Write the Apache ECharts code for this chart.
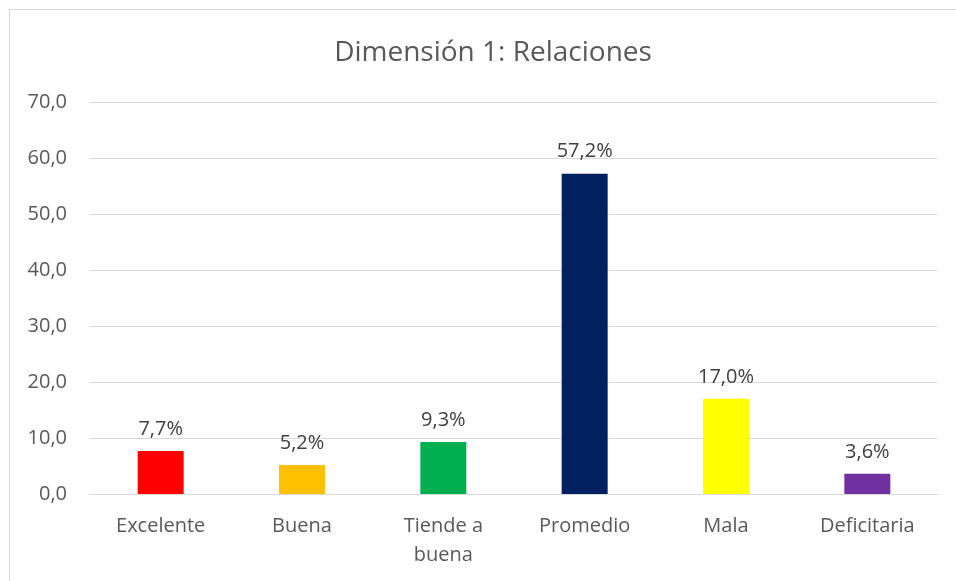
<!DOCTYPE html>
<html>
<head>
<meta charset="utf-8">
<script src="https://cdn.jsdelivr.net/npm/echarts@6/dist/echarts.min.js"></script>
<style>
  html, body { margin: 0; padding: 0; background: #fff; }
  #frame { position: absolute; left: 9px; top: 9px; width: 960px; height: 590px; border: 1px solid #d9d9d9; box-sizing: border-box; }
  #chart { position: absolute; left: 0; top: 0; width: 956px; height: 581px; }
</style>
</head>
<body>
<div id="frame"></div>
<div id="chart"></div>
<script>
// categorías y valores (%)
const categories = ['Excelente', 'Buena', 'Tiende a buena', 'Promedio', 'Mala', 'Deficitaria']
const values = [7.7, 5.2, 9.3, 57.2, 17.0, 3.6]
const barColors = ['#FF0000', '#FFC000', '#00B050', '#002060', '#FFFF00', '#7030A0']

const fontFamily = '"Open Sans", "Noto Sans", sans-serif'
const chart = echarts.init(document.getElementById('chart'))

chart.setOption({
  animation: false,
  title: {
    text: 'Dimensión 1: Relaciones',
    left: 488,
    textAlign: 'center',
    top: 34,
    textStyle: { fontFamily, fontSize: 28, fontWeight: 'normal', color: '#595959' }
  },
  grid: { left: 90, right: 18, top: 102, bottom: 87 },
  xAxis: {
    type: 'category',
    data: categories,
    axisLine: { lineStyle: { color: '#d9d9d9', width: 1 } },
    axisTick: { show: false },
    axisLabel: {
      fontFamily, fontSize: 20, color: '#595959', margin: 18, lineHeight: 29,
      formatter: (v) => v.replace('Tiende a ', 'Tiende a\n')
    }
  },
  yAxis: {
    type: 'value',
    min: 0,
    max: 70,
    interval: 10,
    axisLine: { show: false },
    axisTick: { show: false },
    splitLine: { lineStyle: { color: '#d9d9d9', width: 1 } },
    axisLabel: {
      fontFamily, fontSize: 20, color: '#595959', margin: 23,
      formatter: (v) => v.toFixed(1).replace('.', ',')
    }
  },
  series: [{
    type: 'bar',
    barWidth: 46,
    data: values.map((v, i) => ({ value: v, itemStyle: { color: barColors[i] } })),
    label: {
      show: true,
      position: 'top',
      distance: 12,
      fontFamily, fontSize: 20, color: '#404040',
      formatter: (p) => p.value.toFixed(1).replace('.', ',') + '%'
    }
  }]
})
</script>
</body>
</html>
